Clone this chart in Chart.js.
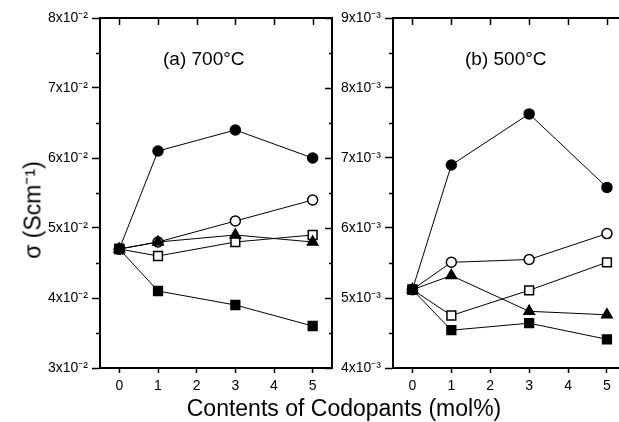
<!DOCTYPE html>
<html>
<head>
<meta charset="utf-8">
<script src="https://cdn.jsdelivr.net/npm/chart.js@4/dist/chart.umd.min.js"></script>
<style>
  body { margin: 0; background: #fff; width: 619px; height: 422px; overflow: hidden; position: relative;
         font-family: "Liberation Sans", Arial, sans-serif; color: #000; }
  #boxA { position: absolute; left: 0; top: 0; width: 340px; height: 422px; }
  #boxB { position: absolute; left: 340px; top: 0; width: 279px; height: 422px; }
  .ttl { position: absolute; white-space: nowrap; }
</style>
</head>
<body>
<div id="boxA"><canvas id="chartA"></canvas></div>
<div id="boxB"><canvas id="chartB"></canvas></div>
<div class="ttl" style="left:163px; top:49px; font-size:19px; line-height:19px;">(a) 700°C</div>
<div class="ttl" style="left:465px; top:49px; font-size:19px; line-height:19px;">(b) 500°C</div>
<div class="ttl" style="left:344px; top:397px; font-size:23px; line-height:23px; transform:translateX(-50%);">Contents of Codopants (mol%)</div>
<div class="ttl" style="left:33px; top:210px; font-size:23px; line-height:23px; transform:translate(-50%,-50%) rotate(-90deg);">σ (Scm⁻¹)</div>
<script>
// codopant content (mol%)
const contents = [0, 1, 3, 5];
const xTicks = [0, 1, 2, 3, 4, 5];

// (a) 700 C
const a_filledCircle = [0.047, 0.061, 0.064, 0.060];
const a_openCircle   = [0.047, 0.048, 0.051, 0.054];
const a_filledTri    = [0.047, 0.048, 0.049, 0.048];
const a_openSquare   = [0.047, 0.046, 0.048, 0.049];
const a_filledSquare = [0.047, 0.041, 0.039, 0.036];

// (b) 500 C
const b_filledCircle = [0.00512, 0.0069, 0.00763, 0.00658];
const b_openCircle   = [0.00512, 0.00551, 0.00555, 0.00592];
const b_filledTri    = [0.00512, 0.00532, 0.00481, 0.00476];
const b_openSquare   = [0.00512, 0.00475, 0.00511, 0.00551];
const b_filledSquare = [0.00512, 0.00454, 0.00464, 0.00441];

const yTicksA = [0.03, 0.04, 0.05, 0.06, 0.07, 0.08];
const yLabelsA = ['3x10⁻²', '4x10⁻²', '5x10⁻²', '6x10⁻²', '7x10⁻²', '8x10⁻²'];
const yMinorA = [0.035, 0.045, 0.055, 0.065, 0.075];
const yTicksB = [0.004, 0.005, 0.006, 0.007, 0.008, 0.009];
const yLabelsB = ['4x10⁻³', '5x10⁻³', '6x10⁻³', '7x10⁻³', '8x10⁻³', '9x10⁻³'];
const yMinorB = [0.0045, 0.0055, 0.0065, 0.0075, 0.0085];

Chart.defaults.font.family = '"Liberation Sans", Arial, sans-serif';
Chart.defaults.color = '#000';

const isMajor = (v, majors) => majors.some(m => Math.abs(m - v) < 1e-9);

// top border, inward ticks on top/right, short minor ticks on the left
const frame = {
  id: 'frame',
  afterDraw(chart, args, opts) {
    const { ctx, chartArea: a, scales: { x, y } } = chart;
    ctx.save();
    ctx.strokeStyle = '#000';
    ctx.lineWidth = 2;
    ctx.beginPath();
    ctx.moveTo(a.left - 1, a.top);
    ctx.lineTo(a.right, a.top);
    if (opts.right) ctx.lineTo(a.right, a.bottom + 1);
    ctx.stroke();
    ctx.lineWidth = 1.5;
    ctx.beginPath();
    x.ticks.forEach(t => {
      const px = Math.round(x.getPixelForValue(t.value)) + 0.5;
      ctx.moveTo(px, a.top);
      ctx.lineTo(px, a.top + 7);
    });
    y.ticks.forEach(t => {
      const py = Math.round(y.getPixelForValue(t.value)) + 0.5;
      const major = isMajor(t.value, opts.majors);
      if (!major) {
        ctx.moveTo(a.left - 4, py);
        ctx.lineTo(a.left, py);
      }
      if (opts.right) {
        ctx.moveTo(a.right, py);
        ctx.lineTo(a.right - (major ? 7 : 3), py);
      }
    });
    ctx.stroke();
    ctx.restore();
  }
};

function series(vals, style) {
  const base = {
    data: contents.map((c, i) => ({ x: c, y: vals[i] })),
    showLine: true,
    borderColor: '#000',
    borderWidth: 1,
    pointBorderColor: '#000',
    pointBorderWidth: 1.5,
    pointHoverRadius: 0
  };
  const styles = {
    filledCircle: { pointStyle: 'circle', pointRadius: 5, pointBackgroundColor: '#000' },
    openCircle: { pointStyle: 'circle', pointRadius: 5, pointBackgroundColor: '#fff' },
    filledTri: { pointStyle: 'triangle', pointRadius: 6, pointBackgroundColor: '#000' },
    openSquare: { pointStyle: 'rect', pointRadius: 6.2, pointBackgroundColor: '#fff' },
    filledSquare: { pointStyle: 'rect', pointRadius: 6.2, pointBackgroundColor: '#000' }
  };
  return Object.assign(base, styles[style]);
}

function makeChart(id, sets, yTicks, yLabels, yMinor, yMin, yMax, xMax, padRight, yWidth, right) {
  return new Chart(document.getElementById(id), {
    type: 'scatter',
    data: {
      datasets: [
        series(sets[4], 'filledSquare'),
        series(sets[2], 'filledTri'),
        series(sets[3], 'openSquare'),
        series(sets[1], 'openCircle'),
        series(sets[0], 'filledCircle')
      ]
    },
    options: {
      responsive: true,
      maintainAspectRatio: false,
      animation: false,
      events: [],
      layout: { autoPadding: false, padding: { top: 18, right: padRight, left: 0, bottom: 0 } },
      plugins: {
        legend: { display: false },
        tooltip: { enabled: false },
        frame: { right: right, majors: yTicks }
      },
      scales: {
        x: {
          type: 'linear',
          min: -0.5,
          max: xMax,
          afterBuildTicks: s => { s.ticks = xTicks.map(v => ({ value: v })); },
          afterFit: s => { s.height = 54; },
          ticks: { font: { size: 14 }, padding: 5, maxRotation: 0, callback: v => String(v) },
          grid: { drawOnChartArea: false, drawTicks: true, tickLength: 5, tickWidth: 1.5, tickColor: '#000' },
          border: { display: true, color: '#000', width: 2 }
        },
        y: {
          type: 'linear',
          min: yMin,
          max: yMax,
          afterBuildTicks: s => { s.ticks = yTicks.concat(yMinor).map(v => ({ value: v })); },
          afterFit: s => { s.width = yWidth; },
          ticks: {
            font: { size: 14 },
            padding: 4,
            callback: v => {
              const i = yTicks.findIndex(m => Math.abs(m - v) < 1e-9);
              return i >= 0 ? yLabels[i] : '';
            }
          },
          grid: {
            drawOnChartArea: false, drawTicks: true, tickLength: 8, tickWidth: 1.5,
            tickColor: c => isMajor(c.tick.value, yTicks) ? '#000' : 'rgba(0,0,0,0)'
          },
          border: { display: true, color: '#000', width: 2 }
        }
      }
    },
    plugins: [frame]
  });
}

makeChart('chartA',
  [a_filledCircle, a_openCircle, a_filledTri, a_openSquare, a_filledSquare],
  yTicksA, yLabelsA, yMinorA, 0.03, 0.08, 5.5, 8, 100, true);

makeChart('chartB',
  [b_filledCircle, b_openCircle, b_filledTri, b_openSquare, b_filledSquare],
  yTicksB, yLabelsB, yMinorB, 0.004, 0.009, 5.31, 0, 53, false);
</script>
</body>
</html>
